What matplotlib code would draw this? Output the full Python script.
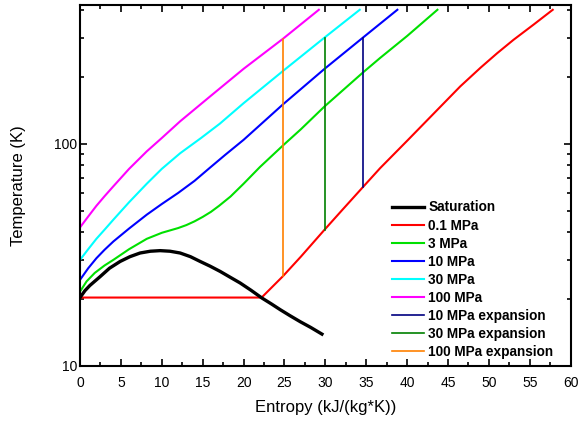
import numpy as np
import matplotlib
matplotlib.use('Agg')
import matplotlib.pyplot as plt
from matplotlib.ticker import MultipleLocator, FixedLocator, FixedFormatter, NullFormatter

plt.rcParams['font.family'] = ['Liberation Sans', 'DejaVu Sans']

# saturation dome (s in kJ/(kg*K), T in K)
sat_s = [0, 0.6, 1.2, 2.45, 3.6, 4.9, 6.1, 7.34, 8.6, 9.79, 11.0, 12.24,
         13.5, 14.69, 15.9, 17.14, 18.4, 19.58, 20.9, 22.24, 23.4, 24.48,
         25.7, 26.93, 28.2, 29.58]
sat_T = [20.3, 21.8, 23.0, 25.2, 27.5, 29.5, 31.0, 32.2, 32.8, 33.0, 32.8, 32.2,
         31.0, 29.5, 28.1, 26.6, 25.0, 23.6, 21.9, 20.2, 19.0, 17.9,
         16.8, 15.8, 14.9, 13.9]

# isobars
p01_s = [0, 22.2, 24.8, 27.0, 29.9, 32.0, 34.6, 36.7, 40.0, 44.1, 46.5, 49.0,
         51.0, 53.0, 55.5, 57.8]
p01_T = [20.3, 20.3, 25.3, 31.0, 41.0, 50.0, 63.8, 77.6, 103, 147, 181, 220,
         255, 293, 344, 400]

p3_s = [0, 0.8, 1.8, 3.0, 4.08, 6.0, 8.16, 10.0, 12.0, 13.0, 14.0, 15.0, 16.0,
        17.0, 18.4, 20.0, 22.0, 24.8, 27.0, 29.9, 34.6, 36.7, 40.0, 43.7]
p3_T = [21.6, 24.0, 26.2, 28.3, 30.0, 33.5, 37.3, 39.7, 41.7, 43.0, 44.7, 46.8, 49.3,
        52.5, 57.8, 66.0, 78.5, 98.0, 116, 147, 209, 243, 305, 400]

p10_s = [0, 1.0, 2.0, 3.0, 4.08, 6.0, 8.16, 10.0, 12.0, 14.0, 15.9, 17.75, 20.0,
         24.8, 29.9, 34.6, 38.8]
p10_T = [24.4, 27.5, 30.5, 33.3, 36.3, 41.5, 47.9, 53.5, 60.0, 68.0, 78.0, 89.0, 104,
         150, 217, 300, 400]

p30_s = [0, 1.0, 2.0, 3.0, 4.08, 6.0, 8.16, 10.0, 12.24, 14.8, 17.1, 20.0, 24.8, 29.9, 34.2]
p30_T = [30.0, 33.5, 37.3, 41.0, 45.5, 54.5, 66.0, 77.0, 90.5, 106, 123, 152, 212, 300, 400]

p100_s = [0, 1.0, 2.0, 3.0, 4.08, 6.0, 8.16, 10.0, 12.24, 15.9, 20.0, 24.8, 29.2]
p100_T = [42.0, 47.0, 52.5, 58.0, 64.3, 77.0, 92.3, 106, 126, 163, 217, 296, 400]

# isentropic expansions down to 0.1 MPa
exp10_s = [34.6, 34.6]
exp10_T = [300, 63.8]
exp30_s = [29.9, 29.9]
exp30_T = [300, 41.0]
exp100_s = [24.8, 24.8]
exp100_T = [296, 25.3]

fig = plt.figure(figsize=(5.8, 4.23), dpi=100)
ax = fig.add_axes([0.138, 0.135, 0.846, 0.853])

ax.plot(sat_s, sat_T, color='black', lw=2.4, label='Saturation', zorder=5)
ax.plot(p01_s, p01_T, color='#ff0000', lw=1.5, label='0.1 MPa')
ax.plot(p3_s, p3_T, color='#00e000', lw=1.5, label='3 MPa')
ax.plot(p10_s, p10_T, color='#0000ff', lw=1.5, label='10 MPa')
ax.plot(p30_s, p30_T, color='#00ffff', lw=1.5, label='30 MPa')
ax.plot(p100_s, p100_T, color='#ff00ff', lw=1.5, label='100 MPa')
ax.plot(exp10_s, exp10_T, color='#000080', lw=1.2, label='10 MPa expansion')
ax.plot(exp30_s, exp30_T, color='#008000', lw=1.2, label='30 MPa expansion')
ax.plot(exp100_s, exp100_T, color='#ff8000', lw=1.2, label='100 MPa expansion')

ax.set_yscale('log')
ax.set_xlim(0, 60)
ax.set_ylim(10, 420)

ax.xaxis.set_major_locator(MultipleLocator(5))
ax.xaxis.set_minor_locator(MultipleLocator(2.5))
ax.yaxis.set_major_locator(FixedLocator([10, 100]))
ax.yaxis.set_major_formatter(FixedFormatter(['10', '100']))
ax.yaxis.set_minor_locator(FixedLocator([20, 30, 40, 50, 60, 70, 80, 90, 200, 300, 400]))
ax.yaxis.set_minor_formatter(NullFormatter())

ax.tick_params(which='both', direction='in', top=True, right=True, width=1.2, labelsize=10)
ax.tick_params(which='major', length=5)
ax.tick_params(which='minor', length=3)
ax.tick_params(axis='x', pad=7)
ax.tick_params(axis='y', pad=2)
for sp in ax.spines.values():
    sp.set_linewidth(1.5)

ax.set_xlabel('Entropy (kJ/(kg*K))', fontsize=12)
ax.set_ylabel('Temperature (K)', fontsize=12)
ax.xaxis.set_label_coords(0.5, -0.095)
ax.yaxis.set_label_coords(-0.11, 0.5)

leg = ax.legend(loc='lower right', bbox_to_anchor=(0.979, 0.0), frameon=False,
                prop={'weight': 'bold', 'size': 9.8}, handlelength=2.4,
                handletextpad=0.3, labelspacing=0.3, borderaxespad=0.1)

fig.savefig('out.png', dpi=100)
